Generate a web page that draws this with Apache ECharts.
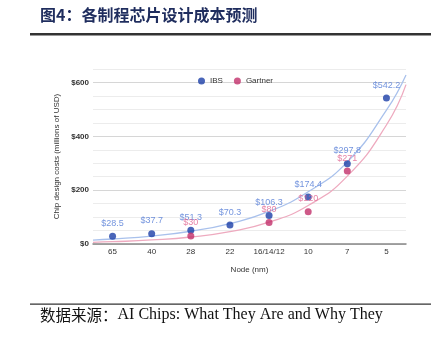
<!DOCTYPE html>
<html><head><meta charset="utf-8">
<script src="https://cdn.jsdelivr.net/npm/echarts@6/dist/echarts.min.js"></script>
<style>html,body{margin:0;padding:0;background:#fff}#c{width:437px;height:337px}</style>
</head><body><div id="c"></div>
<script>
const categories = ['65', '40', '28', '22', '16/14/12', '10', '7', '5'];
const ibs = [28.5, 37.7, 51.3, 70.3, 106.3, 174.4, 297.8, 542.2];
const gartner = [null, null, 30, null, 80, 120, 271, null];
// trend lines at category positions (and plot edges)
const trendX = [-0.5, 0, 1, 2, 3, 4, 5, 6, 7, 7.5];
const ibsTrend = [14.6, 18.5, 29.6, 47.4, 76, 121, 194, 305, 497, 628];
const gartnerTrend = [6.4, 8.5, 15, 26, 46, 81, 143, 252, 442, 592];
const yLabelTicks = [0, 200, 400, 600];

const chart = echarts.init(document.getElementById('c'), null, {renderer: 'canvas'});
const pair = (xs, ys) => xs.map((x, i) => [x, ys[i]]);
const dash = v => (v == null ? '-' : v);

chart.setOption({
  animation: false,
  backgroundColor: '#fff',
  grid: {left: 93, right: 31, top: 69, bottom: 93, containLabel: false},
  legend: {
    data: ['IBS', 'Gartner'],
    left: 193, top: 72,
    icon: 'circle', itemWidth: 7, itemHeight: 7, itemGap: 11,
    textStyle: {fontSize: 8, color: '#333', fontFamily: 'Liberation Sans'}
  },
  xAxis: [{
    type: 'category', data: categories, boundaryGap: true,
    axisTick: {show: false},
    axisLine: {lineStyle: {color: '#888', width: 1.5}},
    axisLabel: {interval: 0, fontSize: 8, color: '#333', margin: 4, fontFamily: 'Liberation Sans'},
    name: 'Node (nm)', nameLocation: 'middle', nameGap: 22,
    nameTextStyle: {fontSize: 8, color: '#333', fontFamily: 'Liberation Sans'}
  }, {
    type: 'value', show: false, min: -0.5, max: 7.5,
    splitLine: {show: false}
  }],
  yAxis: {
    type: 'value', min: 0, max: 650, interval: 50,
    axisLine: {show: false}, axisTick: {show: false},
    axisLabel: {
      fontSize: 8, color: '#333', margin: 4, fontWeight: 'bold', fontFamily: 'Liberation Sans',
      formatter: v => (yLabelTicks.indexOf(v) >= 0 ? '$' + v : '')
    },
    splitLine: {lineStyle: {color: ['#d6d6d6', '#ececec', '#ececec', '#ececec'], width: 1}},
    name: 'Chip design costs (millions of USD)', nameLocation: 'middle', nameGap: 31,
    nameTextStyle: {fontSize: 8, color: '#333', fontFamily: 'Liberation Sans'}
  },
  series: [
    {
      name: 'IBS trend', type: 'line', xAxisIndex: 1, data: pair(trendX, ibsTrend),
      smooth: true, showSymbol: false, silent: true, z: 1,
      lineStyle: {color: '#a9c1ec', width: 1.3}
    },
    {
      name: 'Gartner trend', type: 'line', xAxisIndex: 1, data: pair(trendX, gartnerTrend),
      smooth: true, showSymbol: false, silent: true, z: 1,
      lineStyle: {color: '#eeaabf', width: 1.3}
    },
    {
      name: 'IBS', type: 'scatter', xAxisIndex: 0, data: ibs.map(dash),
      symbolSize: 7, itemStyle: {color: '#1b3fa8'}, z: 3,
      label: {show: true, position: 'top', distance: 5, fontSize: 9, color: '#5079d6',
        fontFamily: 'Liberation Sans', formatter: p => '$' + p.value}
    },
    {
      name: 'Gartner', type: 'scatter', xAxisIndex: 0, data: gartner.map(dash),
      symbolSize: 7, itemStyle: {color: '#c2306a'}, z: 3,
      label: {show: true, position: 'top', distance: 5, fontSize: 9, color: '#e0628f',
        fontFamily: 'Liberation Sans', formatter: p => '$' + p.value}
    }
  ],
  graphic: [
    {type: 'text', left: 40, top: 7, style: {text: '图4：各制程芯片设计成本预测',
      font: 'bold 16px "Noto Sans CJK SC"', fill: '#1f2d5e'}},
    {type: 'rect', shape: {x: 30, y: 33, width: 401, height: 2.5}, style: {fill: '#333'}},
    {type: 'rect', shape: {x: 30, y: 303.5, width: 401, height: 1.3}, style: {fill: '#333'}},
    {type: 'text', left: 40, top: 307, style: {
      text: '{cn|数据来源：}{en|AI Chips: What They Are and Why They}',
      rich: {
        cn: {fontSize: 15.5, fontFamily: 'Noto Sans CJK SC', fill: '#111'},
        en: {fontSize: 16, fontFamily: 'Liberation Serif', fill: '#111'}
      }}}
  ]
});
</script></body></html>
